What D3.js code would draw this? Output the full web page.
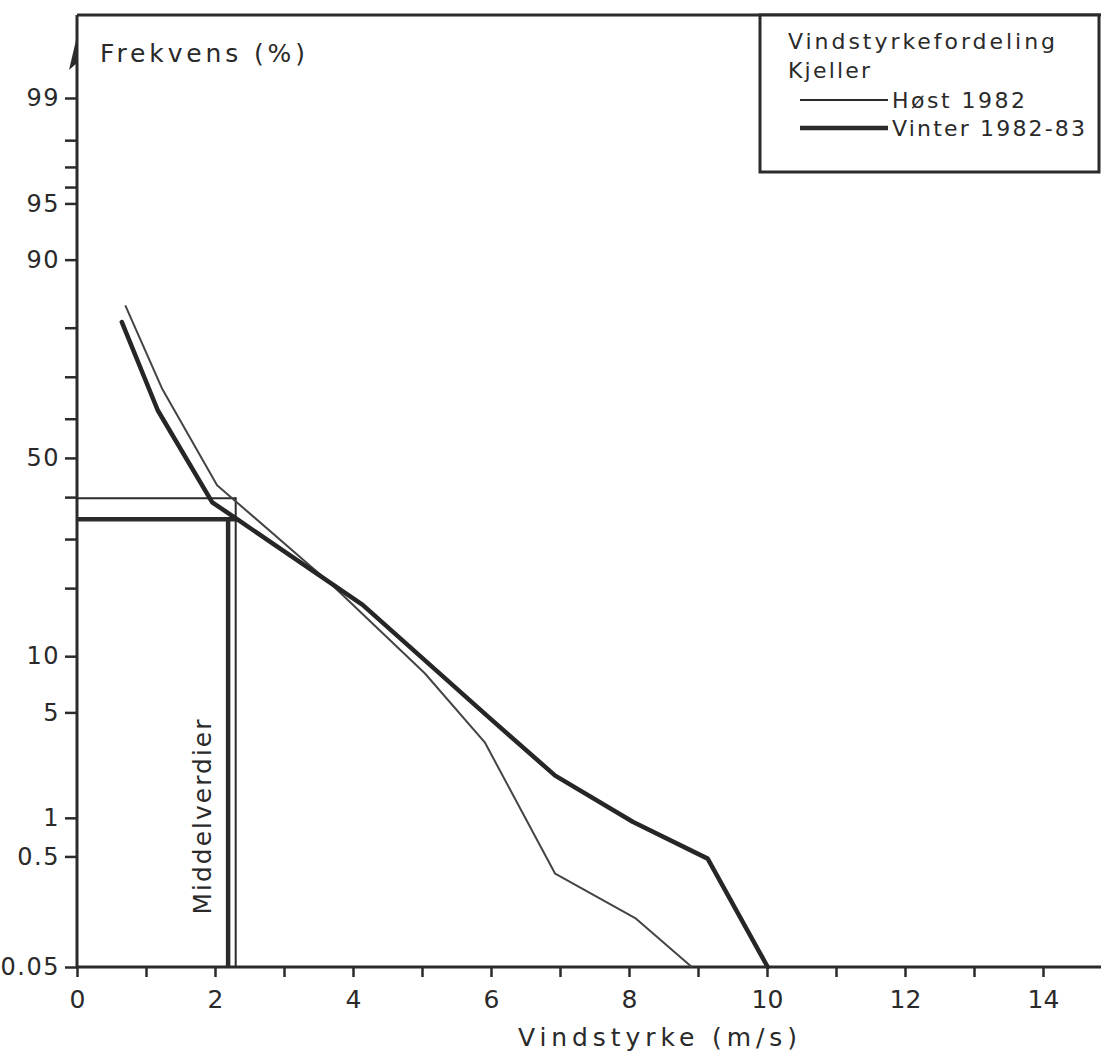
<!DOCTYPE html>
<html>
<head>
<meta charset="utf-8">
<script src="https://cdn.jsdelivr.net/npm/d3@7"></script>
<style>
  body { margin: 0; background: #fff; }
  svg { display: block; }
  text { font-family: "DejaVu Sans", sans-serif; fill: #2a2a2a; }
</style>
</head>
<body>
<svg id="chart" width="1101" height="1052"></svg>
<script>
// ---- Data ----
const hostSpeed   = [0.70, 1.23, 2.03, 3.67, 5.04, 5.91, 6.93, 8.09, 8.91];
const hostFreq    = [83.8, 67.4, 43.0, 20.9, 8.2, 3.3, 0.36, 0.147, 0.05];
const vinterSpeed = [0.65, 1.17, 1.96, 2.32, 4.14, 5.99, 6.93, 8.06, 9.14, 10.01];
const vinterFreq  = [81.0, 62.1, 38.7, 34.6, 17.1, 4.6, 2.0, 0.93, 0.48, 0.05];
const meanSpeed   = [2.30, 2.19];   // Høst, Vinter
const meanFreq    = [39.7, 34.6];   // Høst, Vinter
const meanEndSpeed = [2.30, 2.32];  // where the horizontal mean lines stop
const yMajorTicks = [0.05, 0.5, 1, 5, 10, 50, 90, 95, 99];
const yMajorLabels = ["0.05", "0.5", "1", "5", "10", "50", "90", "95", "99"];
const yMinorTicks = [20, 30, 40, 60, 70, 80, 96, 97, 98];
const xTicks = d3.range(0, 15, 1);
const xLabelTicks = [0, 2, 4, 6, 8, 10, 12, 14];
const seriesNames = ["Høst 1982", "Vinter 1982-83"];

// ---- inverse normal CDF (probability paper) ----
function probit(p) {
  const a = [-3.969683028665376e+01, 2.209460984245205e+02, -2.759285104469687e+02, 1.383577518672690e+02, -3.066479806614716e+01, 2.506628277459239e+00];
  const b = [-5.447609879822406e+01, 1.615858368580409e+02, -1.556989798598866e+02, 6.680131188771972e+01, -1.328068155288572e+01];
  const c = [-7.784894002430293e-03, -3.223964580411365e-01, -2.400758277161838e+00, -2.549732539343734e+00, 4.374664141464968e+00, 2.938163982698783e+00];
  const d = [7.784695709041462e-03, 3.224671290700398e-01, 2.445134137142996e+00, 3.754408661907416e+00];
  const pl = 0.02425, ph = 1 - pl;
  let q, r;
  if (p < pl) {
    q = Math.sqrt(-2 * Math.log(p));
    return (((((c[0]*q+c[1])*q+c[2])*q+c[3])*q+c[4])*q+c[5]) / ((((d[0]*q+d[1])*q+d[2])*q+d[3])*q+1);
  } else if (p <= ph) {
    q = p - 0.5; r = q * q;
    return (((((a[0]*r+a[1])*r+a[2])*r+a[3])*r+a[4])*r+a[5])*q / (((((b[0]*r+b[1])*r+b[2])*r+b[3])*r+b[4])*r+1);
  } else {
    q = Math.sqrt(-2 * Math.log(1 - p));
    return -(((((c[0]*q+c[1])*q+c[2])*q+c[3])*q+c[4])*q+c[5]) / ((((d[0]*q+d[1])*q+d[2])*q+d[3])*q+1);
  }
}

// ---- layout ----
const W = 1101, H = 1052;
const leftX = 77, axisY = 967, topY = 15, rightX = W;
const svg = d3.select("#chart");
const ink = "#2b2b2b";

const x = d3.scaleLinear().domain([0, 14]).range([leftX, 1043]);
const zLin = d3.scaleLinear().domain([probit(0.0005), probit(0.99)]).range([axisY, 98]);
function y(p) { return zLin(probit(p / 100)); }
y.range = () => zLin.range();
y.copy = () => y;
y.domain = () => [0.05, 99];

// ---- frame / axes ----
svg.append("line").attr("x1", leftX).attr("x2", rightX).attr("y1", topY).attr("y2", topY)
  .attr("stroke", ink).attr("stroke-width", 3);
svg.append("line").attr("x1", leftX).attr("x2", leftX).attr("y1", topY).attr("y2", axisY + 1)
  .attr("stroke", ink).attr("stroke-width", 3);
svg.append("line").attr("x1", leftX - 1).attr("x2", rightX).attr("y1", axisY).attr("y2", axisY)
  .attr("stroke", ink).attr("stroke-width", 3);
// arrow head on y axis
svg.append("path").attr("d", `M${leftX},36 L${leftX - 8},70 L${leftX},63 Z`).attr("fill", ink);

// y axis major
const yAxis = d3.axisLeft(y).tickValues(yMajorTicks).tickSize(12).tickPadding(5)
  .tickFormat((d, i) => yMajorLabels[i]);
const gy = svg.append("g").attr("transform", `translate(${leftX},0)`).call(yAxis);
gy.select(".domain").remove();
gy.selectAll(".tick line").attr("stroke", ink).attr("stroke-width", 2.5);
gy.selectAll(".tick text").attr("font-size", 24).attr("fill", "#2a2a2a")
  .attr("font-family", "DejaVu Sans").style("letter-spacing", "1.5px");
// y axis minor
const yMinor = d3.axisLeft(y).tickValues(yMinorTicks).tickSize(12).tickFormat("");
const gym = svg.append("g").attr("transform", `translate(${leftX},0)`).call(yMinor);
gym.select(".domain").remove();
gym.selectAll(".tick line").attr("stroke", ink).attr("stroke-width", 2.5);

// x axis
const xAxis = d3.axisBottom(x).tickValues(xTicks).tickSize(10).tickPadding(13)
  .tickFormat(d => xLabelTicks.includes(d) ? d : "");
const gx = svg.append("g").attr("transform", `translate(0,${axisY})`).call(xAxis);
gx.select(".domain").remove();
gx.selectAll(".tick line").attr("stroke", ink).attr("stroke-width", 2.5);
gx.selectAll(".tick text").attr("font-size", 25).attr("fill", "#2a2a2a")
  .attr("font-family", "DejaVu Sans");

// axis titles
svg.append("text").attr("x", 100).attr("y", 62).attr("font-size", 25)
  .attr("textLength", 205).attr("lengthAdjust", "spacing").text("Frekvens (%)");
svg.append("text").attr("x", 518).attr("y", 1046).attr("font-size", 25)
  .attr("textLength", 279).attr("lengthAdjust", "spacing").text("Vindstyrke (m/s)");

// ---- mean value lines ----
const meanWidths = [2, 4.5];
meanSpeed.forEach((v, i) => {
  svg.append("line").attr("x1", leftX).attr("x2", x(meanEndSpeed[i]))
    .attr("y1", y(meanFreq[i])).attr("y2", y(meanFreq[i]))
    .attr("stroke", ink).attr("stroke-width", meanWidths[i]);
  svg.append("line").attr("x1", x(v)).attr("x2", x(v))
    .attr("y1", y(meanFreq[i]) - (i === 0 ? 1 : 2)).attr("y2", axisY)
    .attr("stroke", ink).attr("stroke-width", meanWidths[i]);
});
svg.append("text").attr("transform", `translate(211,817) rotate(-90)`)
  .attr("text-anchor", "middle").attr("font-size", 25)
  .attr("textLength", 195).attr("lengthAdjust", "spacing").text("Middelverdier");

// ---- curves ----
const line = d3.line().x(d => x(d[0])).y(d => y(d[1]));
svg.append("path").datum(d3.zip(hostSpeed, hostFreq)).attr("d", line)
  .attr("fill", "none").attr("stroke", "#444").attr("stroke-width", 2)
  .attr("stroke-linejoin", "round");
svg.append("path").datum(d3.zip(vinterSpeed, vinterFreq)).attr("d", line)
  .attr("fill", "none").attr("stroke", "#262626").attr("stroke-width", 4.5)
  .attr("stroke-linejoin", "round").attr("stroke-linecap", "round");

// ---- legend ----
svg.append("rect").attr("x", 760).attr("y", topY).attr("width", 1099 - 760).attr("height", 172 - topY)
  .attr("fill", "#fff").attr("stroke", ink).attr("stroke-width", 3);
svg.append("text").attr("x", 788).attr("y", 49).attr("font-size", 22)
  .attr("textLength", 267).attr("lengthAdjust", "spacing").text("Vindstyrkefordeling");
svg.append("text").attr("x", 788).attr("y", 78).attr("font-size", 22)
  .attr("textLength", 82).attr("lengthAdjust", "spacing").text("Kjeller");
const legW = [2, 4.5];
const legY = [100, 128];
const legLen = [133, 193];
seriesNames.forEach((n, i) => {
  svg.append("line").attr("x1", 800).attr("x2", 888).attr("y1", legY[i]).attr("y2", legY[i])
    .attr("stroke", ink).attr("stroke-width", legW[i]);
  svg.append("text").attr("x", 892).attr("y", legY[i] + 8).attr("font-size", 22)
    .attr("textLength", legLen[i]).attr("lengthAdjust", "spacing").text(n);
});
</script>
</body>
</html>
